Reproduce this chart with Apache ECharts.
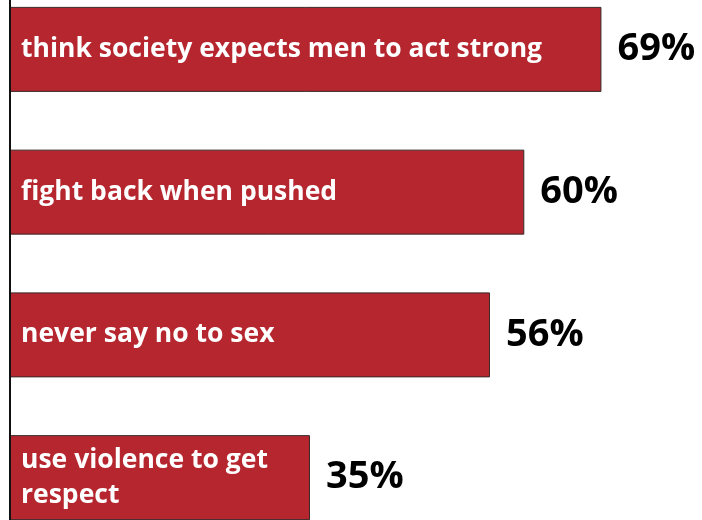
<!DOCTYPE html>
<html><head><meta charset="utf-8">
<script src="https://cdn.jsdelivr.net/npm/echarts@6/dist/echarts.min.js"></script>
<style>html,body{margin:0;padding:0;background:#fff}#c{width:702px;height:520px}</style>
</head><body><div id="c"></div>
<script>
const categories = [
  "think society expects men to act strong",
  "fight back when pushed",
  "never say no to sex",
  "use violence to get\nrespect"
];
const values = [69, 60, 56, 35];

const chart = echarts.init(document.getElementById('c'), null, {renderer: 'canvas'});
chart.setOption({
  animation: false,
  grid: {left: 10, top: -22, width: 600, height: 571, containLabel: false, outerBoundsMode: 'none'},
  xAxis: {type: 'value', min: 0, max: 70, show: false},
  yAxis: {
    type: 'category', inverse: true, data: categories,
    axisLine: {show: true, lineStyle: {color: '#111', width: 2}},
    axisTick: {show: false},
    axisLabel: {
      inside: true, margin: 11, align: 'left',
      color: '#fff', fontFamily: 'Open Sans', fontWeight: 'bold', fontSize: 26.5,
      lineHeight: 35
    },
    z: 10
  },
  series: [{
    type: 'bar', data: values, barWidth: 85,
    itemStyle: {color: '#b5262f', borderColor: '#3a2a2a', borderWidth: 1},
    label: {
      show: true, position: 'right', distance: 16,
      formatter: '{c}%', color: '#000', fontFamily: 'Open Sans', fontWeight: 'bold', fontSize: 38
    }
  }]
});
</script></body></html>
